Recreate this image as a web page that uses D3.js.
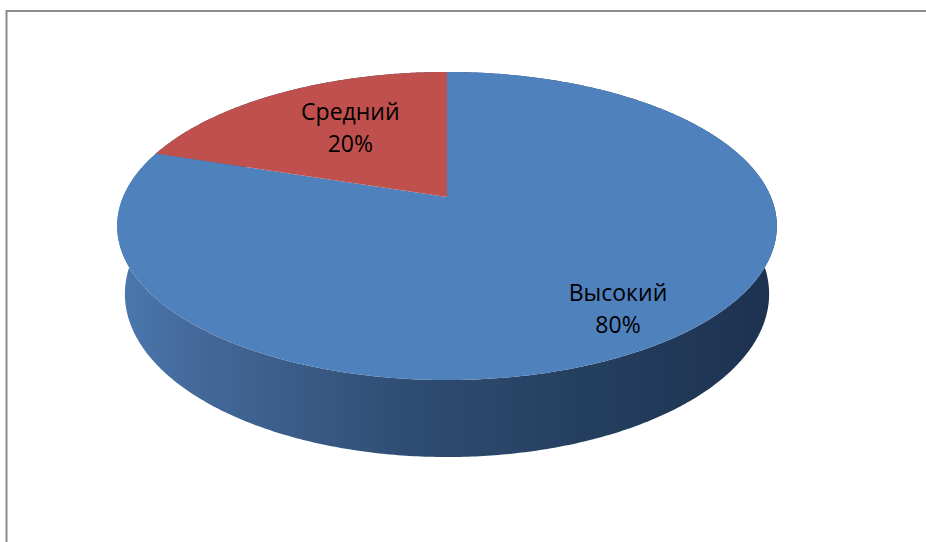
<!DOCTYPE html>
<html>
<head>
<meta charset="utf-8">
<script src="https://cdn.jsdelivr.net/npm/d3@7.9.0/dist/d3.min.js"></script>
<style>
  html, body { margin: 0; padding: 0; background: #fff; }
  svg { display: block; }
  .lbl { font-family: "Open Sans", "Liberation Sans", sans-serif; font-size: 23px; fill: #000; }
</style>
</head>
<body>
<svg id="chart" width="926" height="542"></svg>
<script>
/* ──── data ──── */
const categories = ['Высокий', 'Средний'];
const values     = [80, 20];
const percents   = ['80%', '20%'];

/* ──── look ──── */
const topColors = ['#4f81bd', '#c0504d'];
const labelR    = [0.79, 0.55];          // radial spot of each label, 0‒1
const labelDy   = [12, 0];               // small nudge down, px

/* ──── 3d camera (perspective) ──── */
const cx = 447, cy = 197;                // where the pie centre lands
const tilt = 27.3 * Math.PI / 180;
const S = Math.sin(tilt), C = Math.cos(tilt);
const L = 4.72;                          // camera distance, in radii
const F = 1529;                          // focal length, px
const depth = 0.238;                     // thickness, in radii

// theta: 0 at the back (12 o'clock), clockwise; r: 0‒1; y: 0 top, -depth bottom
function proj (theta, r, y) {
  const x = r * Math.sin(theta), z = r * Math.cos(theta);
  const Y = y * C + z * S;
  const Z = L + z * C - y * S;
  return [cx + F * x / Z, cy - F * Y / Z];
}

function arcPts (a0, a1, y) {
  const n = Math.max(2, Math.ceil(Math.abs(a1 - a0) / 0.01));
  return d3.range(n + 1).map(i => proj(a0 + (a1 - a0) * i / n, 1, y));
}

const svg = d3.select('#chart');

/* frame */
svg.append('rect')
   .attr('x', 6.5).attr('y', 11)
   .attr('width', 1000).attr('height', 1000)
   .attr('fill', 'none')
   .attr('stroke', '#8c8c8c')
   .attr('stroke-width', 2);

/* wall gradient, light on the left, dark on the right */
const grad = svg.append('defs').append('linearGradient')
   .attr('id', 'wall')
   .attr('gradientUnits', 'userSpaceOnUse')
   .attr('x1', 116).attr('x2', 776).attr('y1', 0).attr('y2', 0);
[[0, '#4a79b0'], [0.12, '#44699a'], [0.45, '#2f4c72'], [0.7, '#25405f'], [1, '#1d3150']]
  .forEach(([o, c]) => grad.append('stop').attr('offset', o).attr('stop-color', c));

const pie  = d3.pie().sort(null).startAngle(0).endAngle(2 * Math.PI);
const arcs = pie(values).map((d, i) => ({ ...d, i }));

const line = d3.line();

/* walls, far ones first */
const walls = arcs.slice().sort((a, b) =>
  Math.cos((b.startAngle + b.endAngle) / 2) - Math.cos((a.startAngle + a.endAngle) / 2));

svg.append('g').selectAll('path')
   .data(walls)
   .join('path')
   .attr('d', d => line(arcPts(d.startAngle, d.endAngle, 0)
                   .concat(arcPts(d.endAngle, d.startAngle, -depth))) + 'Z')
   .attr('fill', 'url(#wall)');

/* tops */
svg.append('g').selectAll('path')
   .data(arcs)
   .join('path')
   .attr('d', d => line([proj(0, 0, 0)].concat(arcPts(d.startAngle, d.endAngle, 0))) + 'Z')
   .attr('fill', d => topColors[d.i]);

/* labels */
const lbl = svg.append('g').selectAll('text')
   .data(arcs)
   .join('text')
   .attr('class', 'lbl')
   .attr('text-anchor', 'middle')
   .attr('transform', d => {
     const p = proj((d.startAngle + d.endAngle) / 2, labelR[d.i], 0);
     return `translate(${p[0]},${p[1] + labelDy[d.i]})`;
   });

lbl.append('tspan').attr('x', 0).attr('dy', -16).text(d => categories[d.i]);
lbl.append('tspan').attr('x', 0).attr('dy', 32).text(d => percents[d.i]);
</script>
</body>
</html>
